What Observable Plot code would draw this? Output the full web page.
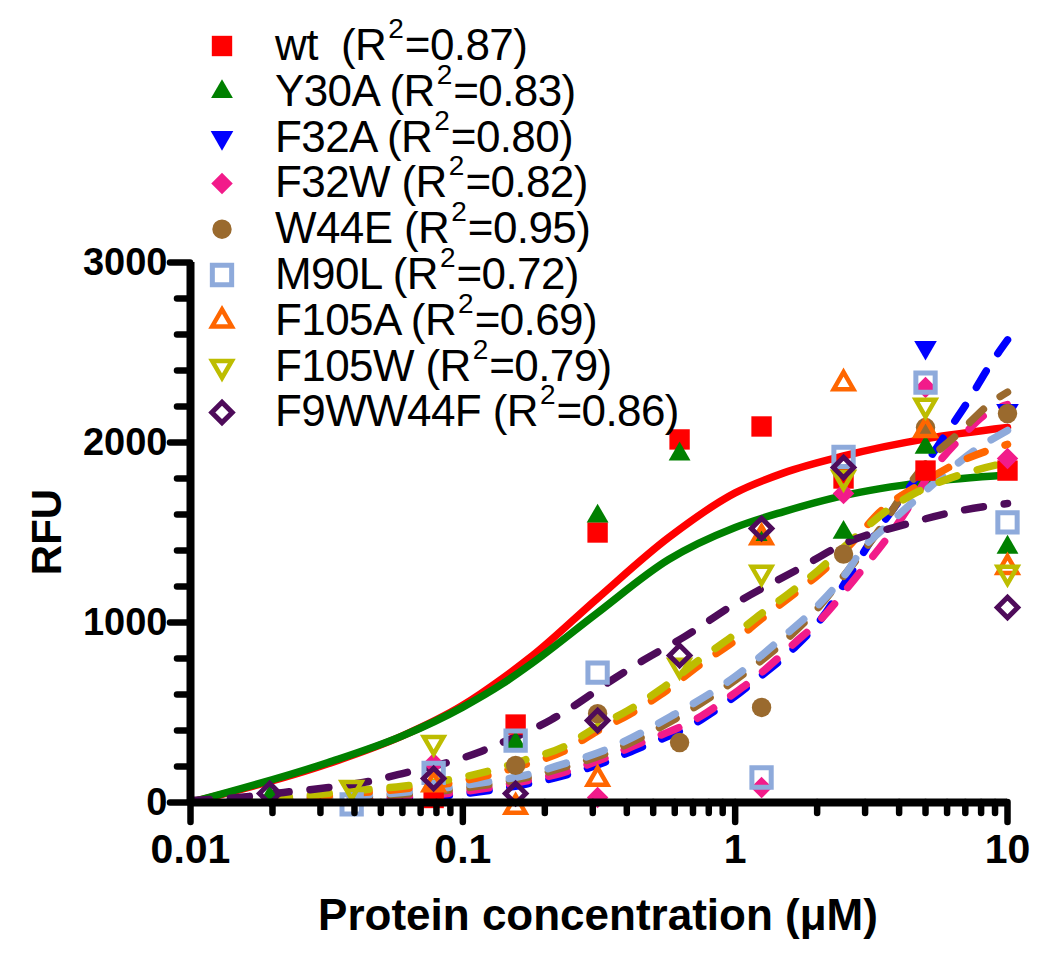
<!DOCTYPE html>
<html>
<head>
<meta charset="utf-8">
<script src="https://cdn.jsdelivr.net/npm/d3@7"></script>
<script src="https://cdn.jsdelivr.net/npm/@observablehq/plot@0.6"></script>
<style>
html, body { margin: 0; padding: 0; background: #fff; }
#chart { position: relative; width: 1050px; height: 963px; }
</style>
</head>
<body>
<div id="chart"></div>
<script>
// ---------- DATA ----------
const seriesNames = ["wt", "Y30A", "F32A", "F32W", "W44E", "M90L", "F105A", "F105W", "F9WW44F"];
const rSquared = ["0.87", "0.83", "0.80", "0.82", "0.95", "0.72", "0.69", "0.79", "0.86"];

// protein concentration (µM) of the measured points
const concentrations = [0.01953125, 0.0390625, 0.078125, 0.15625, 0.3125, 0.625, 1.25, 2.5, 5, 10];

// measured RFU (null = not visible in the figure)
const rfuWt      = [null, null, 25, 433, 1500, 2017, 2089, 1800, 1844, 1844];
const rfuY30A    = [28, null, null, 328, 1590, 1935, 1480, 1500, 1972, 1417];
const rfuF32A    = [null, null, null, null, null, null, null, null, 2528, 2178];
const rfuF32W    = [null, null, 217, null, 28, null, 83, 1717, 2306, 1911];
const rfuW44E    = [null, null, null, 206, 494, 333, 528, 1380, 2083, 2161];
const rfuM90L    = [null, -10, 165, 344, 722, null, 139, 1920, 2333, 1556];
const rfuF105A   = [null, null, 100, -25, 130, null, 1472, 2328, 2067, 1306];
const rfuF105W   = [null, 83, 333, null, null, 761, 1278, 1806, 2206, 1278];
const rfuF9WW44F = [50, null, 133, 50, 456, 817, 1522, 1861, null, 1083];

// fitted curves as [concentration, RFU]
const fitWt = [[0.01,0],[0.032,215],[0.06,370],[0.1,540],[0.14,690],[0.18,815],[0.31,1130],[0.57,1472],[1.0,1720],[1.5,1830],[2.5,1925],[5,2020],[10,2083]];
const fitY30A = [[0.01,0],[0.032,222],[0.06,370],[0.1,530],[0.14,660],[0.18,775],[0.31,1050],[0.57,1350],[1.0,1528],[1.5,1615],[2.5,1705],[5,1780],[10,1820]];
const fitF32A = [[0.01,2],[0.022,6],[0.043,16],[0.06,26],[0.088,40],[0.168,100],[0.229,145],[0.33,222],[0.425,290],[0.75,460],[1.0,590],[1.145,660],[1.65,860],[2.07,1020],[2.6,1250],[3.2,1470],[4.83,1844],[5.72,2011],[7.19,2233],[8.51,2417],[10,2570]];
const fitF32W = [[0.01,4],[0.022,10],[0.043,22],[0.06,33],[0.088,50],[0.168,118],[0.229,162],[0.33,244],[0.425,315],[0.75,480],[1.0,610],[1.145,675],[1.65,885],[2.07,1020],[2.74,1240],[4.0,1560],[5.4,1861],[6.6,2011],[8.5,2167],[10,2210]];
const fitW44E = [[0.01,6],[0.022,16],[0.043,32],[0.06,46],[0.088,68],[0.119,95],[0.168,135],[0.235,195],[0.33,268],[0.58,450],[1.0,680],[1.5,890],[2.0,1075],[2.6,1290],[3.44,1530],[4.33,1760],[5.13,1900],[6.6,2050],[8.73,2222],[10,2280]];
const fitM90L = [[0.01,8],[0.022,20],[0.043,40],[0.06,56],[0.088,83],[0.119,111],[0.168,150],[0.235,215],[0.33,289],[0.58,478],[1.0,700],[1.5,920],[2.0,1090],[2.6,1290],[2.9,1400],[3.5,1520],[4.5,1670],[5.7,1806],[7.57,1956],[10,2067]];
const fitF105A = [[0.01,8],[0.022,20],[0.043,55],[0.06,75],[0.088,105],[0.119,145],[0.168,210],[0.235,285],[0.31,395],[0.404,485],[0.534,600],[0.75,770],[1.0,900],[1.25,1020],[1.57,1135],[2.02,1265],[2.6,1420],[3.44,1622],[4.83,1772],[6.6,1889],[10,1990]];
const fitF105W = [[0.01,10],[0.022,28],[0.043,70],[0.06,90],[0.088,125],[0.119,167],[0.168,235],[0.235,310],[0.31,420],[0.404,511],[0.534,630],[0.75,800],[1.0,935],[1.25,1050],[1.57,1160],[2.02,1290],[2.6,1440],[3.75,1640],[4.95,1744],[6.6,1817],[10,1889]];
const fitF9WW44F = [[0.01,11],[0.015,28],[0.022,56],[0.03,78],[0.043,111],[0.06,161],[0.114,278],[0.138,330],[0.211,460],[0.243,515],[0.36,689],[0.46,790],[0.65,920],[1.0,1105],[1.75,1306],[2.45,1430],[4.33,1550],[6.2,1611],[10,1661]];

// axis ticks
const xTickValues = [0.01, 0.1, 1, 10];
const xTickLabels = ["0.01", "0.1", "1", "10"];
const yTickValues = [0, 1000, 2000, 3000];
const yTickLabels = ["0", "1000", "2000", "3000"];

// ---------- STYLE ----------
const FONT = "'Liberation Sans', Arial, Helvetica, sans-serif";
const styles = [
  {color: "#ff0000", symbol: "square",   filled: true,  r: 11.5, rotate: 0,   dashed: false},
  {color: "#008000", symbol: "triangle", filled: true,  r: 8.1,  rotate: 0,   dashed: false},
  {color: "#0000ff", symbol: "triangle", filled: true,  r: 8.4,  rotate: 180, dashed: true},
  {color: "#f21b8a", symbol: "diamond2", filled: true,  r: 9.7,  rotate: 0,   dashed: true},
  {color: "#9a6a2e", symbol: "circle",   filled: true,  r: 9.7,  rotate: 0,   dashed: true},
  {color: "#8eaadb", symbol: "square",   filled: false, r: 10.9, rotate: 0,   dashed: true, sw: 5},
  {color: "#ff6600", symbol: "triangle", filled: false, r: 7.3,  rotate: 0,   dashed: true, sw: 4.5},
  {color: "#bdbd00", symbol: "triangle", filled: false, r: 7.3,  rotate: 180, dashed: true, sw: 4.5},
  {color: "#4e0b5a", symbol: "diamond2", filled: false, r: 9.2,  rotate: 0,   dashed: true, sw: 5}
];

const values = [rfuWt, rfuY30A, rfuF32A, rfuF32W, rfuW44E, rfuM90L, rfuF105A, rfuF105W, rfuF9WW44F];
const fits = [fitWt, fitY30A, fitF32A, fitF32W, fitW44E, fitM90L, fitF105A, fitF105W, fitF9WW44F];

const yMinorTicks = d3.range(200, 3000, 200).filter(v => v % 1000 !== 0);
const xMinorTicks = [];
[0.01, 0.1, 1].forEach(d => { for (let k = 2; k <= 9; k++) xMinorTicks.push(+(k * d).toPrecision(3)); });

const marks = [];
// fitted lines
fits.forEach((fit, i) => {
  const st = styles[i];
  marks.push(Plot.line(fit, {
    x: d => d[0], y: d => d[1], curve: "monotone-x",
    stroke: st.color, strokeWidth: 7.5, strokeLinecap: "round", strokeLinejoin: "round",
    strokeDasharray: st.dashed ? "19,21" : null
  }));
});
// measured points
values.forEach((vals, i) => {
  const st = styles[i];
  const pts = concentrations.map((c, j) => ({x: c, y: vals[j]})).filter(d => d.y !== null);
  marks.push(Plot.dot(pts, {
    x: "x", y: "y", symbol: st.symbol, r: st.r, rotate: st.rotate,
    fill: st.filled ? st.color : "none",
    stroke: st.filled ? "none" : st.color,
    strokeWidth: st.filled ? 0 : st.sw
  }));
});
// axis lines and ticks
marks.push(Plot.ruleX([0.01], {stroke: "black", strokeWidth: 8}));
marks.push(Plot.ruleY([0], {stroke: "black", strokeWidth: 8}));
marks.push(Plot.axisY({ticks: yMinorTicks, tickSize: 13, strokeWidth: 6.5, strokeLinecap: "round", fill: "none", label: null}));
marks.push(Plot.axisY({ticks: yTickValues, tickSize: 20, strokeWidth: 6.5, strokeLinecap: "round", fill: "none", label: null}));
marks.push(Plot.axisX({ticks: xMinorTicks, tickSize: 11, strokeWidth: 6.5, strokeLinecap: "round", fill: "none", label: null}));
marks.push(Plot.axisX({ticks: xTickValues, tickSize: 20, strokeWidth: 6.5, strokeLinecap: "round", fill: "none", label: null}));
// tick labels
marks.push(Plot.text(xTickValues.map((v, i) => ({v, t: xTickLabels[i]})), {
  x: "v", text: "t", frameAnchor: "bottom", dy: 60, fontSize: 41, fontWeight: "bold", fill: "black",
  ariaLabel: "x-tick-labels"
}));
marks.push(Plot.text(yTickValues.map((v, i) => ({v, t: yTickLabels[i]})), {
  y: "v", text: "t", frameAnchor: "left", dx: -23, textAnchor: "end", fontSize: 38, fontWeight: "bold", fill: "black",
  ariaLabel: "y-tick-labels"
}));

const chart = Plot.plot({
  width: 1050,
  height: 963,
  marginLeft: 190,
  marginRight: 43,
  marginTop: 262,
  marginBottom: 161,
  x: {type: "log", domain: [0.01, 10]},
  y: {domain: [0, 3000]},
  style: {fontFamily: FONT, background: "white", color: "black", overflow: "visible"},
  marks
});

// ---------- axis titles & legend ----------
const svg = d3.select(chart);
svg.selectAll('g[aria-label="y-tick-labels"] text').attr("letter-spacing", "-3");
svg.selectAll('g[aria-label="x-tick-labels"] text').attr("letter-spacing", "-1.5");

svg.append("text")
  .attr("transform", "translate(46,532) rotate(-90)")
  .attr("text-anchor", "middle").attr("dy", "0.35em")
  .attr("font-family", FONT).attr("font-weight", "bold").attr("font-size", 42)
  .attr("fill", "black").text("RFU");
svg.append("text")
  .attr("x", 598).attr("y", 915).attr("dy", "0.35em")
  .attr("text-anchor", "middle")
  .attr("font-family", FONT).attr("font-weight", "bold").attr("font-size", 44)
  .attr("fill", "black").text("Protein concentration (\u03BCM)");

const symbolTypes = {square: d3.symbolSquare, triangle: d3.symbolTriangle, diamond2: d3.symbolDiamond2, circle: d3.symbolCircle};
const legend = svg.append("g")
  .attr("font-family", FONT).attr("font-size", 44).attr("fill", "black")
  .attr("text-anchor", "start");
seriesNames.forEach((name, i) => {
  const st = styles[i];
  const cy = 46 + i * 45.8;
  legend.append("path")
    .attr("d", d3.symbol(symbolTypes[st.symbol], Math.PI * st.r * st.r)())
    .attr("transform", `translate(222,${cy}) rotate(${st.rotate})`)
    .attr("fill", st.filled ? st.color : "none")
    .attr("stroke", st.filled ? "none" : st.color)
    .attr("stroke-width", st.filled ? 0 : st.sw);
  const t = legend.append("text")
    .attr("x", 275).attr("y", cy + 14)
    .attr("text-anchor", "start")
    .style("white-space", "pre");
  t.append("tspan").attr("letter-spacing", "-0.6").text(name + (name === "wt" ? "  " : " ") + "(R");
  t.append("tspan").attr("font-size", 28).attr("dx", 2).attr("dy", -22).text("2");
  t.append("tspan").attr("letter-spacing", "-0.6").attr("dx", 1).attr("dy", 22).text("=" + rSquared[i] + ")");
});

document.getElementById("chart").appendChild(chart);
</script>
</body>
</html>
